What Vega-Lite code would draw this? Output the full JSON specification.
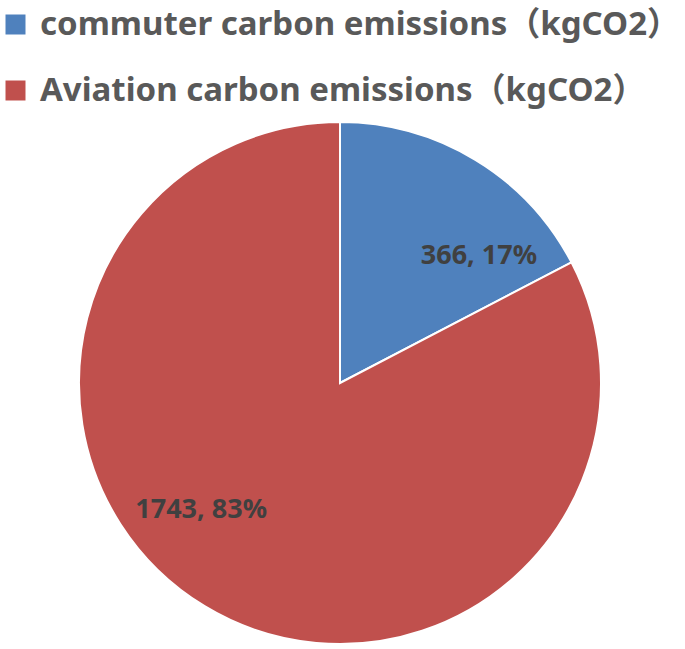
{
  "$schema": "https://vega.github.io/schema/vega-lite/v6.json",
  "width": 522,
  "height": 522,
  "autosize": {"type": "none"},
  "padding": {"left": 79, "top": 122, "right": 84, "bottom": 5},
  "background": "white",
  "data": {
    "values": [
      {"category": "commuter carbon emissions（kgCO2）", "value": 366, "label": "366, 17%", "order": 1},
      {"category": "Aviation carbon emissions（kgCO2）", "value": 1743, "label": "1743, 83%", "order": 2}
    ]
  },
  "encoding": {
    "theta": {"field": "value", "type": "quantitative", "stack": true},
    "order": {"field": "order", "type": "quantitative"}
  },
  "layer": [
    {
      "mark": {"type": "arc", "stroke": "white", "strokeWidth": 2},
      "encoding": {
        "color": {
          "field": "category",
          "type": "nominal",
          "sort": ["commuter carbon emissions（kgCO2）", "Aviation carbon emissions（kgCO2）"],
          "scale": {
            "domain": ["commuter carbon emissions（kgCO2）", "Aviation carbon emissions（kgCO2）"],
            "range": ["#4F81BD", "#C0504D"]
          },
          "legend": {
            "title": null,
            "orient": "none",
            "legendX": -80,
            "legendY": -114,
            "padding": 0,
            "symbolType": "square",
            "symbolSize": 400,
            "symbolStrokeWidth": 0,
            "labelFont": "Noto Sans, 'Noto Sans CJK SC'",
            "labelFontSize": 33,
            "labelFontWeight": "bold",
            "labelColor": "#595959",
            "labelOffset": 8,
            "rowPadding": 32,
            "labelLimit": 0
          }
        }
      }
    },
    {
      "mark": {
        "type": "text",
        "radius": 188,
        "thetaOffset": 0.286,
        "font": "Noto Sans",
        "fontSize": 27,
        "fontWeight": "bold",
        "color": "#404040"
      },
      "encoding": {
        "text": {"field": "label", "type": "nominal"}
      }
    }
  ]
}
